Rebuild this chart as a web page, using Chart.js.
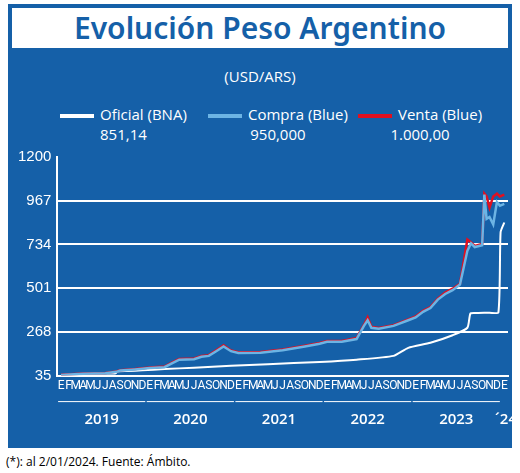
<!DOCTYPE html>
<html><head><meta charset="utf-8">
<script src="https://cdn.jsdelivr.net/npm/chart.js@4.4.0/dist/chart.umd.min.js"></script>
<style>
body{margin:0;width:520px;height:473px;background:#fff;font-family:"Open Sans",sans-serif;overflow:hidden}
#frame{position:absolute;left:8px;top:4px;width:504px;height:444px;background:#1560a8}
#title{position:absolute;left:4px;top:4px;width:496px;height:40px;background:#fff;color:#1560a8;font:600 30px "Noto Sans",sans-serif;text-align:center;line-height:40px}
#unit{position:absolute;top:62px;width:100%;text-align:center;color:#fff;font-size:15px}
.lg{position:absolute;top:100px;color:#fff;font-size:15px;text-align:center;line-height:20px}
.sw{display:inline-block;width:34px;height:4px;vertical-align:middle;margin-right:6px}
#wrap{position:absolute;left:0;top:138px;width:504px;height:306px}
#foot{position:absolute;left:6px;top:453px;font-size:12px;color:#000}
</style></head><body>
<div id="frame">
<div id="title">Evolución Peso Argentino</div>
<div id="unit">(USD/ARS)</div>
<div class="lg" style="left:52px"><span class="sw" style="background:#fff"></span>Oficial (BNA)<br>851,14</div>
<div class="lg" style="left:200px"><span class="sw" style="background:#6cb4e4"></span>Compra (Blue)<br>950,000</div>
<div class="lg" style="left:350px"><span class="sw" style="background:#e01020"></span>Venta (Blue)<br>1.000,00</div>
<div id="wrap"><canvas id="c"></canvas></div>
</div>
<div id="foot">(*): al 2/01/2024. Fuente: Ámbito.</div>
<script>
const monthLetters = ['E','F','M','A','M','J','J','A','S','O','N','D'];
const years = ['2019','2020','2021','2022','2023','´24'];
const yTicks = [35, 268, 501, 734, 967, 1200];

// x = months since Jan 2019
const oficialX = [0,3,6,7.4,7.6,9,11,14,18,23,28,35,40,45,47,50,53,55,55.4,56,58,59.2,59.5,60];
const oficialY = [38,44,46,48,58,60,63,70,77,88,96,108,120,140,183,210,250,290,365,368,370,372,800,851];
const blueX = [0,3,6,7.5,8,10,12,14,15,16,18,19,20,21,22,23,24,27,30,33,35,36,38,40,41,41.5,42,43,45,47,48,49,50,51,52,53,54,55,55.5,56,57,57.3,57.6,58,58.5,59,59.4,60];
const blueY = [38,45,48,55,62,68,75,80,100,120,122,135,140,165,190,165,155,157,170,190,205,215,215,230,300,330,290,285,300,330,345,375,395,440,470,490,520,700,740,720,730,1000,870,880,840,960,940,950];
const ventaY = [39,46,49,57,64,70,78,83,104,124,126,139,144,170,197,169,159,161,174,194,209,219,220,235,305,345,295,289,304,335,350,380,400,445,478,498,525,760,745,726,736,1005,990,930,990,1005,990,1000];

const pts = (xs, ys) => xs.map((x, i) => ({x, y: ys[i]}));

const yearPlugin = {
  id: 'years',
  afterDraw(chart) {
    const ctx = chart.ctx, xs = chart.scales.x, b = chart.chartArea.bottom;
    ctx.save();
    ctx.strokeStyle = '#fff'; ctx.fillStyle = '#fff'; ctx.lineWidth = 1;
    ctx.font = '600 15px "Open Sans", sans-serif'; ctx.textAlign = 'center';
    years.forEach((y, i) => {
      const a = xs.getPixelForValue(i * 12 - 0.4), e = xs.getPixelForValue(i < 5 ? i * 12 + 11.4 : 60.5);
      if (i < 5) { ctx.beginPath(); ctx.moveTo(a, b + 26); ctx.lineTo(e, b + 26); ctx.stroke(); }
      ctx.fillText(y, i < 5 ? (a + e) / 2 : e - 2, b + 48);
    });
    ctx.restore();
  }
};

new Chart(document.getElementById('c'), {
  type: 'line',
  data: { datasets: [
    { data: pts(oficialX, oficialY), borderColor: '#fff', borderWidth: 2, pointRadius: 0, tension: 0.2, order: 3 },
    { data: pts(blueX, blueY), borderColor: '#6cb4e4', borderWidth: 2.5, pointRadius: 0, tension: 0, order: 1 },
    { data: pts(blueX, ventaY), borderColor: '#e01020', borderWidth: 2.5, pointRadius: 0, tension: 0, order: 2 }
  ]},
  plugins: [yearPlugin],
  options: {
    responsive: true, maintainAspectRatio: false, animation: false,
    layout: { padding: { left: 4, right: 4, top: 8, bottom: 52 } },
    plugins: { legend: { display: false }, tooltip: { enabled: false } },
    scales: {
      x: { type: 'linear', min: -0.5, max: 60.5,
        afterBuildTicks: s => { s.ticks = Array.from({length: 61}, (_, i) => ({value: i})); },
        ticks: { color: '#fff', autoSkip: false, maxRotation: 0, padding: 3,
          font: { family: '"Liberation Sans Narrow", "Roboto", sans-serif', size: 12 },
          callback: v => monthLetters[v % 12] },
        grid: { display: false, drawTicks: false },
        border: { color: '#fff', width: 2 } },
      y: { min: 35, max: 1200,
        afterBuildTicks: s => { s.ticks = yTicks.map(v => ({value: v})); },
        ticks: { color: '#fff', font: { size: 15 }, padding: 6, callback: v => String(v) },
        grid: { color: c => (c.tick.value === 35 || c.tick.value === 1200) ? 'rgba(0,0,0,0)' : '#fff', lineWidth: 2, drawTicks: false },
        border: { color: '#fff', width: 2 } }
    }
  }
});
</script>
</body></html>
